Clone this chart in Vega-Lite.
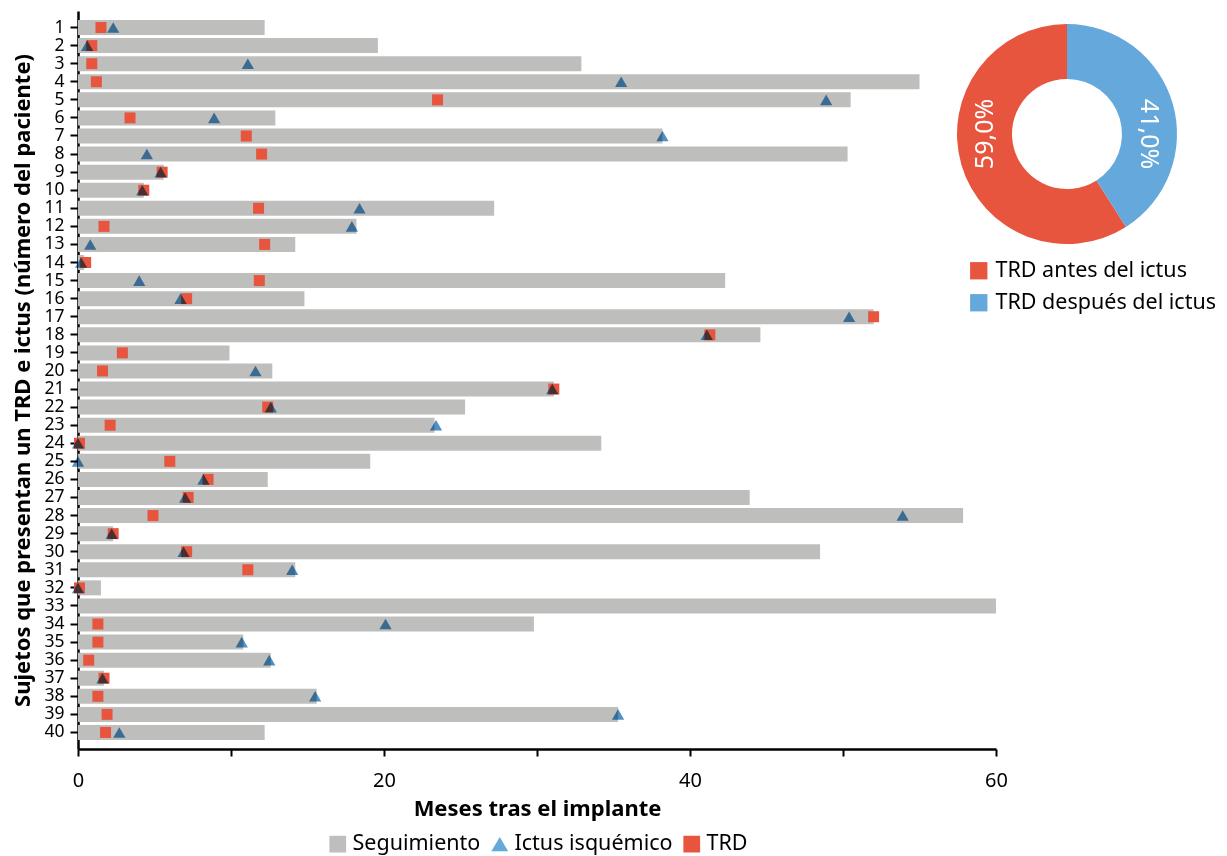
{
  "$schema": "https://vega.github.io/schema/vega-lite/v6.json",
  "background": "white",
  "padding": {"left": 11, "top": 11, "right": 0, "bottom": 4},
  "spacing": 0,
  "bounds": "flush",
  "resolve": {"scale": {"color": "independent", "shape": "independent"}, "legend": {"color": "independent", "shape": "independent"}},
  "config": {
    "font": "Noto Sans",
    "view": {"stroke": null},
    "legend": {"layout": {"bottom": {"anchor": "middle"}}}
  },
  "hconcat": [
    {
      "width": 918,
      "height": 738,
      "data": {"values": [
        {"p": 1, "seg": 12.2, "ictus": 2.3, "trd": 1.5},
        {"p": 2, "seg": 19.6, "ictus": 0.6, "trd": 0.9},
        {"p": 3, "seg": 32.9, "ictus": 11.1, "trd": 0.9},
        {"p": 4, "seg": 55.0, "ictus": 35.5, "trd": 1.2},
        {"p": 5, "seg": 50.5, "ictus": 48.9, "trd": 23.5},
        {"p": 6, "seg": 12.9, "ictus": 8.9, "trd": 3.4},
        {"p": 7, "seg": 38.2, "ictus": 38.2, "trd": 11.0},
        {"p": 8, "seg": 50.3, "ictus": 4.5, "trd": 12.0},
        {"p": 9, "seg": 5.6, "ictus": 5.4, "trd": 5.5},
        {"p": 10, "seg": 4.3, "ictus": 4.2, "trd": 4.3},
        {"p": 11, "seg": 27.2, "ictus": 18.4, "trd": 11.8},
        {"p": 12, "seg": 18.2, "ictus": 17.9, "trd": 1.7},
        {"p": 13, "seg": 14.2, "ictus": 0.8, "trd": 12.2},
        {"p": 14, "seg": 0.4, "ictus": 0.2, "trd": 0.5},
        {"p": 15, "seg": 42.3, "ictus": 4.0, "trd": 11.85},
        {"p": 16, "seg": 14.8, "ictus": 6.7, "trd": 7.1},
        {"p": 17, "seg": 52.0, "ictus": 50.4, "trd": 52.0},
        {"p": 18, "seg": 44.6, "ictus": 41.1, "trd": 41.3},
        {"p": 19, "seg": 9.9, "ictus": null, "trd": 2.9},
        {"p": 20, "seg": 12.7, "ictus": 11.6, "trd": 1.6},
        {"p": 21, "seg": 31.1, "ictus": 31.0, "trd": 31.1},
        {"p": 22, "seg": 25.3, "ictus": 12.6, "trd": 12.4},
        {"p": 23, "seg": 23.3, "ictus": 23.4, "trd": 2.1},
        {"p": 24, "seg": 34.2, "ictus": 0.0, "trd": 0.1},
        {"p": 25, "seg": 19.1, "ictus": 0.0, "trd": 6.0},
        {"p": 26, "seg": 12.4, "ictus": 8.2, "trd": 8.5},
        {"p": 27, "seg": 43.9, "ictus": 7.0, "trd": 7.2},
        {"p": 28, "seg": 57.85, "ictus": 53.9, "trd": 4.9},
        {"p": 29, "seg": 2.3, "ictus": 2.2, "trd": 2.3},
        {"p": 30, "seg": 48.5, "ictus": 6.9, "trd": 7.1},
        {"p": 31, "seg": 14.2, "ictus": 14.0, "trd": 11.1},
        {"p": 32, "seg": 1.5, "ictus": 0.0, "trd": 0.1},
        {"p": 33, "seg": 60.0, "ictus": null, "trd": null},
        {"p": 34, "seg": 29.8, "ictus": 20.1, "trd": 1.3},
        {"p": 35, "seg": 10.8, "ictus": 10.7, "trd": 1.3},
        {"p": 36, "seg": 12.6, "ictus": 12.5, "trd": 0.7},
        {"p": 37, "seg": 1.7, "ictus": 1.6, "trd": 1.7},
        {"p": 38, "seg": 15.6, "ictus": 15.5, "trd": 1.3},
        {"p": 39, "seg": 35.3, "ictus": 35.3, "trd": 1.9},
        {"p": 40, "seg": 12.2, "ictus": 2.7, "trd": 1.8}
      ]},
      "transform": [{"fold": ["seg", "ictus", "trd"], "as": ["tipo", "meses"]}],
      "encoding": {
        "y": {
          "field": "p", "type": "ordinal",
          "scale": {"paddingInner": 0.17, "paddingOuter": 0.5},
          "title": "Sujetos que presentan un TRD e ictus (número del paciente)",
          "axis": {
            "labelFontSize": 17.5, "labelColor": "black", "labelPadding": 6,
            "tickColor": "black", "tickWidth": 2, "tickSize": 8,
            "domainColor": "black", "domainWidth": 2.5,
            "titleFontSize": 22, "titleFontWeight": "bold", "titleColor": "black", "titlePadding": 9
          }
        },
        "x": {
          "field": "meses", "type": "quantitative",
          "scale": {"domain": [0, 60], "nice": false},
          "title": "Meses tras el implante",
          "axis": {
            "values": [0, 10, 20, 30, 40, 50, 60],
            "labelExpr": "datum.value % 20 === 0 ? datum.label : ''",
            "labelFlush": false,
            "labelFontSize": 20, "labelColor": "black", "labelPadding": 14,
            "tickColor": "black", "tickWidth": 2, "tickSize": 7,
            "domainColor": "black", "domainWidth": 2.5, "grid": false,
            "titleFontSize": 22, "titleFontWeight": "bold", "titleColor": "black", "titlePadding": 8
          }
        },
        "shape": {
          "field": "tipo", "type": "nominal",
          "scale": {"domain": ["seg", "ictus", "trd"], "range": ["square", "triangle-up", "square"]},
          "legend": {
            "title": null, "orient": "bottom", "direction": "horizontal",
            "labelExpr": "{'seg': 'Seguimiento', 'ictus': 'Ictus isquémico', 'trd': 'TRD'}[datum.value]",
            "labelFontSize": 21.5, "labelColor": "black", "symbolSize": 280, "symbolOpacity": 1,
            "symbolStrokeWidth": 0, "columnPadding": 8, "labelOffset": 4, "offset": 14
          }
        }
      },
      "layer": [
        {
          "transform": [{"filter": "datum.tipo === 'seg'"}],
          "mark": {"type": "bar"},
          "encoding": {
            "color": {
              "field": "tipo", "type": "nominal",
              "scale": {"domain": ["seg", "ictus", "trd"], "range": ["#BEBEBC", "#64A8DC", "#E8553F"]},
              "legend": {
                "title": null, "orient": "bottom", "direction": "horizontal",
                "labelExpr": "{'seg': 'Seguimiento', 'ictus': 'Ictus isquémico', 'trd': 'TRD'}[datum.value]",
                "labelFontSize": 21.5, "labelColor": "black", "symbolSize": 280, "symbolOpacity": 1,
                "symbolStrokeWidth": 0, "columnPadding": 8, "labelOffset": 4, "offset": 14
              }
            }
          }
        },
        {
          "transform": [{"filter": "datum.tipo === 'trd'"}],
          "mark": {"type": "point", "filled": true, "size": 121, "opacity": 1},
          "encoding": {"color": {"field": "tipo", "type": "nominal"}}
        },
        {
          "transform": [{"filter": "datum.tipo === 'ictus'"}],
          "mark": {"type": "point", "filled": true, "size": 150, "opacity": 1, "fill": "#4E90C8", "blend": "multiply"}
        }
      ]
    },
    {
      "width": 142,
      "height": 246,
      "data": {"values": [
        {"grupo": "TRD antes del ictus", "pct": 59, "etiqueta": "59,0%"},
        {"grupo": "TRD después del ictus", "pct": 41, "etiqueta": "41,0%"}
      ]},
      "encoding": {
        "theta": {"field": "pct", "type": "quantitative", "stack": true},
        "order": {"field": "pct", "sort": "ascending"}
      },
      "layer": [
        {
          "mark": {"type": "arc", "innerRadius": 55, "outerRadius": 110},
          "encoding": {
            "color": {
              "field": "grupo", "type": "nominal",
              "scale": {"domain": ["TRD antes del ictus", "TRD después del ictus"], "range": ["#E8553F", "#65A8DC"]},
              "legend": {
                "title": null, "orient": "none", "legendX": -28, "legendY": 249, "direction": "vertical",
                "labelFontSize": 21.5, "labelColor": "black", "symbolType": "square", "labelLimit": 400,
                "symbolSize": 300, "symbolStrokeWidth": 0, "rowPadding": 9, "labelOffset": 6
              }
            }
          }
        },
        {
          "mark": {"type": "text", "radius": 82, "thetaOffset": 0.283, "fontSize": 25, "color": "white"},
          "encoding": {
            "text": {"field": "etiqueta"},
            "angle": {"field": "pct", "type": "quantitative", "scale": {"domain": [41, 59], "range": [90, 270]}, "legend": null}
          }
        }
      ]
    }
  ]
}
